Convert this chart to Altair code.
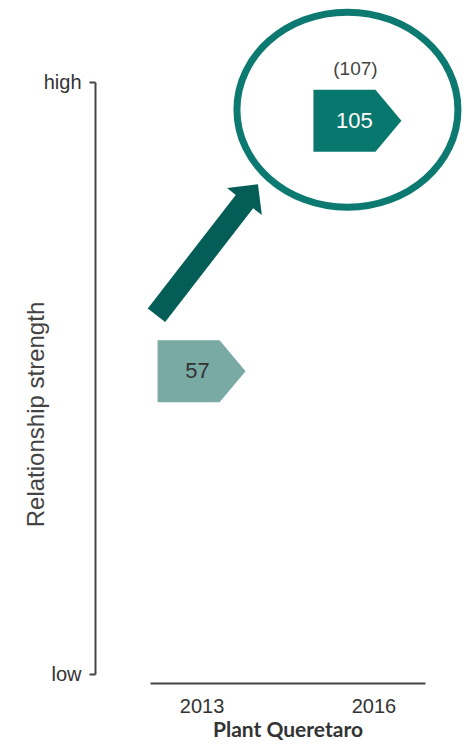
import altair as alt
import pandas as pd

# ---- data -------------------------------------------------------------
years = ["2013", "2016"]
values = [57, 105]
value_labels = ["57", "105"]

note_years = ["2016"]
note_anchor = [105]
note_labels = ["(107)"]

LOW, HIGH = -1.0, 112.4          # scale ends shown as "low" / "high"

df = pd.DataFrame({"year": years, "value": values, "label": value_labels})
notes = pd.DataFrame({"year": note_years, "value": note_anchor, "label": note_labels})

# ---- styling ---------------------------------------------------------
LIGHT = "#79aaa4"
DARK = "#08786e"
RING = "#0c7a71"
ARROW = "#045e57"
TXT = "#333333"
FONT = "Liberation Sans"

PENT = "M -1.419 -1 L 0.581 -1 L 1.419 0 L 0.581 1 L -1.419 1 Z"
k, ry = 0.5523, 0.8824
ELLIPSE = (f"M -1 0 C -1 {-k*ry:.4f} {-k:.4f} {-ry} 0 {-ry} "
           f"C {k:.4f} {-ry} 1 {-k*ry:.4f} 1 0 "
           f"C 1 {k*ry:.4f} {k:.4f} {ry} 0 {ry} "
           f"C {-k:.4f} {ry} -1 {k*ry:.4f} -1 0 Z")
ARROW_PATH = ("M -53.8 -62.7 L 34.2 -176.3 L 25.5 -183.1 L 56.4 -187 "
              "L 60.3 -156.1 L 51.6 -162.9 L -36.4 -49.3 Z")

x_enc = alt.X(
    "year:N",
    scale=alt.Scale(type="point", padding=0.3),
    axis=alt.Axis(
        title="Plant Queretaro",
        labelAngle=0,
        ticks=False,
        tickSize=0,
        offset=9,
        domainColor="#444444",
        domainWidth=2,
        labelFont=FONT,
        labelFontSize=20,
        labelColor=TXT,
        labelBaseline="alphabetic",
        labelPadding=29,
        titleFont="Lato",
        titleFontSize=21,
        titleFontWeight="bold",
        titleColor=TXT,
        titleBaseline="alphabetic",
        titleY=53,
        grid=False,
    ),
)

y_enc = alt.Y(
    "value:Q",
    scale=alt.Scale(domain=[LOW, HIGH], nice=False, zero=False),
    axis=alt.Axis(
        values=[LOW, HIGH],
        labelExpr="datum.value > 50 ? 'high' : 'low'",
        offset=55,
        tickSize=6,
        tickWidth=2,
        tickColor="#444444",
        domainColor="#444444",
        domainWidth=2,
        labelFont=FONT,
        labelFontSize=20,
        labelColor=TXT,
        labelPadding=8,
        grid=False,
        title="Relationship strength",
        titleFont=FONT,
        titleFontSize=24,
        titleFontWeight="normal",
        titleColor="#444444",
        titleAngle=-90,
        titleBaseline="bottom",
        titleAlign="center",
        titleX=-47,
        titleY=332,
    ),
)

base = alt.Chart(df).encode(x=x_enc, y=y_enc)

m13 = base.transform_filter(alt.datum.year == "2013")
m16 = base.transform_filter(alt.datum.year == "2016")

arrow = m13.mark_point(shape=ARROW_PATH, size=4, filled=True, color=ARROW,
                       opacity=1, strokeWidth=0)

p13 = m13.mark_point(shape=PENT, size=3844, filled=True, color=LIGHT,
                     opacity=1, strokeWidth=0)
t13 = m13.mark_text(dx=-4, fontSize=22, font=FONT, color=TXT).encode(text="label:N")

p16 = m16.mark_point(shape=PENT, size=3844, filled=True, color=DARK,
                     opacity=1, strokeWidth=0, xOffset=-16)
t16 = m16.mark_text(dx=-19, fontSize=22, font=FONT, color="white").encode(text="label:N")

ring = m16.mark_point(shape=ELLIPSE, size=48841, filled=False, color=RING,
                      opacity=1, strokeWidth=7, xOffset=-26, yOffset=-11)

note = alt.Chart(notes).mark_text(dx=-18, dy=-52, fontSize=19, font=FONT,
                                  color="#444444").encode(
    x=alt.X("year:N", scale=alt.Scale(type="point", padding=0.3)),
    y=alt.Y("value:Q"),
    text="label:N",
)

chart = alt.layer(arrow, p13, t13, p16, t16, ring, note).properties(
    width=275,
    height=592,
    autosize=alt.AutoSizeParams(type="none"),
    padding={"left": 142, "top": 74, "right": 37, "bottom": 68},
).configure_view(stroke=None)

chart.save("out.html", embed_options={"renderer": "svg", "actions": False})
